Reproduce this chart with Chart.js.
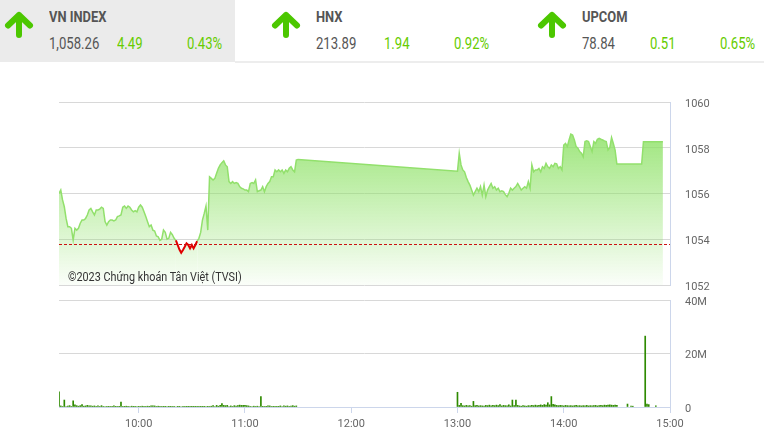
<!DOCTYPE html>
<html>
<head>
<meta charset="utf-8">
<script src="https://cdn.jsdelivr.net/npm/chart.js@4.4.1/dist/chart.umd.min.js"></script>
<style>
  body { margin: 0; background: #fff; font-family: Roboto, sans-serif; }
  #wrap { position: relative; width: 764px; height: 438px; overflow: hidden; }
  .box1 { position: absolute; left: 0; top: 0; width: 235px; height: 62px; background: #ebebeb; }
  .hline { position: absolute; left: 235px; top: 61px; width: 529px; height: 2px; background: #ededed; }
  .ttl, .val { position: absolute; white-space: nowrap; transform-origin: left top; }
  .ttl { font-size: 15px; line-height: 15px; font-weight: bold; color: #555; top: 10px; transform: scaleX(0.86); }
  .val { font-size: 16px; line-height: 16px; color: #555; top: 36px; transform: scaleX(0.82); }
  .up { color: #66cc00; }
  .arrow { position: absolute; top: 9px; }
  #credit { position: absolute; left: 68px; top: 270px; font-size: 12px; line-height: 14px; color: #333; z-index: 2; white-space: nowrap; transform-origin: left top; transform: scaleX(0.9); }
  canvas { position: absolute; left: 0; }
</style>
</head>
<body>
<div id="wrap">
  <div class="box1"></div>
  <div class="hline"></div>
  <div id="head"></div>
  <canvas id="priceChart" width="764" height="202" style="top:92px"></canvas>
  <canvas id="volChart" width="764" height="147" style="top:291px"></canvas>
  <div id="credit">©2023 Chứng khoán Tân Việt (TVSI)</div>
</div>
<script>
// ---- header data ----
const indexNames = ["VN INDEX", "HNX", "UPCOM"];
const indexValues = ["1,058.26", "213.89", "78.84"];
const indexChanges = ["4.49", "1.94", "0.51"];
const indexPcts = ["0.43%", "0.92%", "0.65%"];

// ---- chart data ----
const refLevel = 1053.77; // tham chieu
const morningStart = "09:15";
const afternoonStart = "13:00";
const morningPrice = [
  1056.00, 1056.15, 1055.72, 1055.42, 1054.91, 1054.55, 1054.55, 1054.48, 1053.97, 1054.48,
  1054.40, 1054.48, 1054.70, 1054.84, 1054.84, 1054.91, 1055.06, 1055.28, 1055.35, 1055.20,
  1055.06, 1055.28, 1055.28, 1055.32, 1055.40, 1055.35, 1054.77, 1054.62, 1054.77, 1054.84,
  1054.84, 1054.80, 1054.84, 1054.99, 1055.02, 1055.06, 1055.40, 1055.45, 1055.35, 1055.45,
  1055.40, 1055.28, 1055.20, 1055.25, 1055.20, 1055.40, 1055.50, 1055.40, 1055.20, 1054.99,
  1054.77, 1054.55, 1054.62, 1054.40, 1054.36, 1054.14, 1054.11, 1053.95, 1054.00, 1054.40,
  1054.30, 1054.00, 1054.04, 1054.30, 1054.20, 1054.04, 1053.95, 1053.75, 1053.55, 1053.41,
  1053.53, 1053.67, 1053.82, 1053.75, 1053.60, 1053.75, 1053.60, 1053.75, 1053.92, 1054.04,
  1054.30, 1054.84, 1055.13, 1055.45, 1054.40, 1056.73, 1056.66, 1056.59, 1056.66, 1056.88,
  1057.10, 1057.25, 1057.35, 1057.43, 1057.25, 1057.17, 1056.52, 1056.44, 1056.52, 1056.44,
  1056.48, 1056.44, 1056.30, 1056.23, 1056.20, 1056.15, 1056.15, 1056.08, 1056.44, 1056.48,
  1056.44, 1056.59, 1056.08, 1056.12, 1056.15, 1056.30, 1056.08, 1056.30, 1056.44, 1056.52,
  1056.73, 1056.73, 1057.03, 1056.95, 1057.03, 1056.95, 1057.03, 1056.88, 1057.03, 1056.95,
  1057.10, 1057.17, 1057.03, 1056.95, 1057.46, 1057.49
];
const afternoonPrice = [
  1056.97, 1057.76, 1057.25, 1057.03, 1056.95, 1056.70, 1056.52, 1056.37, 1056.15, 1055.93,
  1056.08, 1056.23, 1056.08, 1056.30, 1055.93, 1056.37, 1055.86, 1056.15, 1056.30, 1056.44,
  1056.23, 1056.30, 1056.15, 1056.23, 1056.08, 1056.12, 1056.08, 1055.95, 1055.86, 1056.01,
  1056.23, 1056.15, 1056.23, 1056.30, 1056.44, 1056.30, 1056.15, 1056.23, 1056.30, 1056.23,
  1056.52, 1056.23, 1057.25, 1056.95, 1057.03, 1057.03, 1057.10, 1056.95, 1057.17, 1057.10,
  1057.32, 1057.17, 1057.10, 1057.25, 1057.17, 1057.32, 1057.30, 1057.10, 1057.17, 1057.03,
  1058.12, 1058.19, 1058.05, 1058.34, 1058.60, 1058.56, 1058.34, 1058.05, 1057.98, 1057.83,
  1057.76, 1057.60, 1058.27, 1058.30, 1058.27, 1058.05, 1057.83, 1058.27, 1058.19, 1058.37,
  1058.41, 1058.37, 1058.34, 1058.30, 1058.27, 1057.90, 1058.00, 1058.45, 1058.19, 1057.90,
  1057.29
];
// cuoi phien (ATC)
const closeTimes = ["14:44", "14:45", "14:56"];
const closeValues = [1057.29, 1058.26, 1058.26];

// khoi luong (trieu CP)
const morningVol = [
  5.7, 0.4, 0.2, 2.6, 0.2, 0.3, 0.5, 0.2, 2.3, 0.8,
  0.5, 0.3, 0.5, 0.9, 0.3, 0.4, 0.6, 0.4, 0.4, 0.3,
  0.4, 0.2, 0.4, 0.2, 0.5, 0.2, 0.2, 0.2, 0.1, 0.2,
  0.1, 0.4, 0.1, 0.2, 0.1, 1.8, 0.2, 0.1, 0.3, 0.1,
  0.2, 0.3, 0.1, 0.1, 0.2, 0.1, 0.2, 0.3, 0.1, 0.2,
  0.3, 0.1, 0.4, 0.4, 0.4, 0.2, 0.3, 0.1, 0.2, 0.1,
  0.1, 0.2, 0.1, 0.1, 0.2, 0.1, 0, 0.1, 0.1, 0,
  0.1, 0.2, 0.1, 0.1, 0.1, 0.1, 0.1, 0.1, 0.1, 0.1,
  0.1, 0.1, 0.1, 0.2, 0.1, 0.2, 0.3, 0.5, 0.2, 0.6,
  0.3, 0.6, 1.3, 0.6, 0.5, 0.6, 0.2, 0.4, 0.2, 0.5,
  0.3, 0.5, 0.7, 0.6, 0.6, 0.6, 0.5, 0.4, 0.2, 0.2,
  0.3, 0.2, 0.3, 0.2, 3.9, 0.1, 0.2, 0.1, 0.4, 0.4,
  0.2, 0.1, 0.1, 0.1, 0.1, 0.4, 0.2, 0.4, 0.3, 0.4,
  0.2, 0.3, 0.5, 0.3, 0.4
];
const afternoonVol = [
  5.5, 0.6, 1.4, 0.5, 0.4, 0.6, 0.4, 0.5, 0.3, 2.1,
  0.5, 0.6, 0.4, 0.5, 0.4, 0.3, 0.6, 0.5, 0.7, 0.4,
  0.6, 0.5, 0.7, 0.5, 0.9, 0.4, 0.6, 0.5, 0.4, 0.8,
  0.4, 2.6, 0.5, 2.6, 0.6, 0.4, 0.3, 0.5, 0.4, 0.3,
  0.5, 0.4, 0.6, 0.5, 0.7, 0.5, 0.6, 0.8, 0.6, 0.9,
  0.7, 1.6, 0.8, 3.9, 1.0, 0.8, 0.6, 0.5, 0.6, 0.5,
  0.4, 0.6, 0.5, 0.4, 0.5, 0.4, 0.5, 0.6, 0.4, 0.5,
  0.4, 0.5, 0.4, 0.6, 0.4, 0.5, 0.4, 0.5, 0.6, 0.4,
  0.5, 0.6, 0.5, 0.7, 0.6, 0.7, 0.8, 0.7, 0.6, 0.7,
  0.6
];
const closeVolTimes = ["14:36", "14:38", "14:39", "14:46", "14:47", "14:48", "14:52"];
const closeVol = [1.1, 0.3, 0.3, 26.5, 1.1, 0.9, 0.4];

const priceTicks = [1052, 1054, 1056, 1058, 1060];
const volTicks = [0, 20, 40];
const timeLabels = ["10:00", "11:00", "12:00", "13:00", "14:00", "15:00"];
const axisStart = "09:15";
const axisEnd = "15:00";

// ---- helpers ----
function toMin(t) {
  const p = t.split(":").map(Number);
  return p[0] * 60 + p[1];
}
function series(start, values) {
  const s = toMin(start);
  return values.map((v, i) => ({ x: s + i, y: v }));
}
function timed(times, values) {
  return times.map((t, i) => ({ x: toMin(t), y: values[i] }));
}

// ---- header ----
const headLeft = [0, 267, 533];
const head = document.getElementById("head");
indexNames.forEach((name, i) => {
  const L = headLeft[i];
  head.insertAdjacentHTML("beforeend",
    `<svg class="arrow" style="left:${L + 4}px" width="30" height="32" viewBox="0 0 30 32">
       <path d="M15 6 L15 26 M4 16.5 L15 6 L26 16.5" fill="none" stroke="#4cc700" stroke-width="6" stroke-linecap="round" stroke-linejoin="round"/>
     </svg>
     <span class="ttl" style="left:${L + 49}px">${name}</span>
     <span class="val" style="left:${L + 49}px">${indexValues[i]}</span>
     <span class="val up" style="left:${L + 117}px">${indexChanges[i]}</span>
     <span class="val up" style="left:${L + 187}px">${indexPcts[i]}</span>`);
});

// ---- charts ----
const axisFont = { family: "Roboto, sans-serif", size: 11 };
const xMin = toMin(axisStart), xMax = toMin(axisEnd);

// truc phai: day nhan ra bang tickLength trong suot (padding cong vao chieu doc)
const rightAxis = {
  position: "right",
  afterFit: (s) => { s.width = 94; },
  grid: { color: "#d8d8d8", drawTicks: true, tickLength: 13, tickColor: "rgba(0,0,0,0)" },
  border: { display: true, color: "#ccd6eb" }
};

const pricePoints = [
  ...series(morningStart, morningPrice),
  ...series(afternoonStart, afternoonPrice),
  ...timed(closeTimes, closeValues)
];

new Chart(document.getElementById("priceChart"), {
  type: "line",
  data: {
    datasets: [
      {
        data: [{ x: xMin, y: refLevel }, { x: xMax, y: refLevel }],
        borderColor: "#cc1111",
        borderWidth: 1,
        borderDash: [3, 2],
        pointRadius: 0,
        fill: false
      },
      {
        data: pricePoints,
        borderColor: "#92e06c",
        borderWidth: 1.5,
        pointRadius: 0,
        tension: 0,
        fill: "start",
        backgroundColor: (ctx) => {
          const { ctx: c, chartArea } = ctx.chart;
          if (!chartArea) return "rgba(140,225,100,0.5)";
          const g = c.createLinearGradient(0, chartArea.top, 0, chartArea.bottom);
          g.addColorStop(0, "rgba(140,225,100,1)");
          g.addColorStop(1, "rgba(140,225,100,0.04)");
          return g;
        },
        segment: {
          borderColor: (s) => (s.p0.parsed.y < refLevel || s.p1.parsed.y < refLevel) ? "#e00000" : undefined,
          borderWidth: (s) => (s.p0.parsed.y < refLevel || s.p1.parsed.y < refLevel) ? 2 : undefined
        }
      }
    ]
  },
  options: {
    responsive: false,
    animation: false,
    layout: { padding: { left: 59, top: 10, right: 0, bottom: 9 } },
    plugins: { legend: { display: false }, tooltip: { enabled: false } },
    scales: {
      x: { type: "linear", display: false, min: xMin, max: xMax },
      y: {
        ...rightAxis,
        min: priceTicks[0],
        max: priceTicks[priceTicks.length - 1],
        afterBuildTicks: (s) => { s.ticks = priceTicks.map(v => ({ value: v })); },
        ticks: { padding: 2, labelOffset: 2, color: "#666", font: axisFont, callback: (v) => String(v) }
      }
    }
  }
});

const volPoints = [
  ...series(morningStart, morningVol),
  ...series(afternoonStart, afternoonVol),
  ...timed(closeVolTimes, closeVol)
];

new Chart(document.getElementById("volChart"), {
  type: "bar",
  data: {
    datasets: [{
      data: volPoints,
      backgroundColor: "#2e8a00",
      barThickness: 1
    }]
  },
  options: {
    responsive: false,
    animation: false,
    layout: { padding: { left: 59, top: 9, right: 0, bottom: 0 } },
    plugins: { legend: { display: false }, tooltip: { enabled: false } },
    scales: {
      x: {
        type: "linear",
        offset: false,
        min: xMin,
        max: xMax,
        afterBuildTicks: (s) => { s.ticks = timeLabels.map(t => ({ value: toMin(t) })); },
        afterFit: (s) => { s.height = 31; },
        ticks: {
          color: "#666",
          font: axisFont,
          padding: 5,
          maxRotation: 0,
          autoSkip: false,
          callback: (v) => timeLabels.find(t => toMin(t) === v)
        },
        grid: { drawOnChartArea: false, offset: false, tickLength: 6, color: "#ccd6eb" },
        border: { color: "#ccd6eb" }
      },
      y: {
        ...rightAxis,
        min: volTicks[0],
        max: volTicks[volTicks.length - 1],
        afterBuildTicks: (s) => { s.ticks = volTicks.map(v => ({ value: v })); },
        ticks: { padding: 2, labelOffset: 2, color: "#666", font: axisFont, callback: (v) => v === 0 ? "0" : v + "M" }
      }
    }
  }
});
</script>
</body>
</html>
